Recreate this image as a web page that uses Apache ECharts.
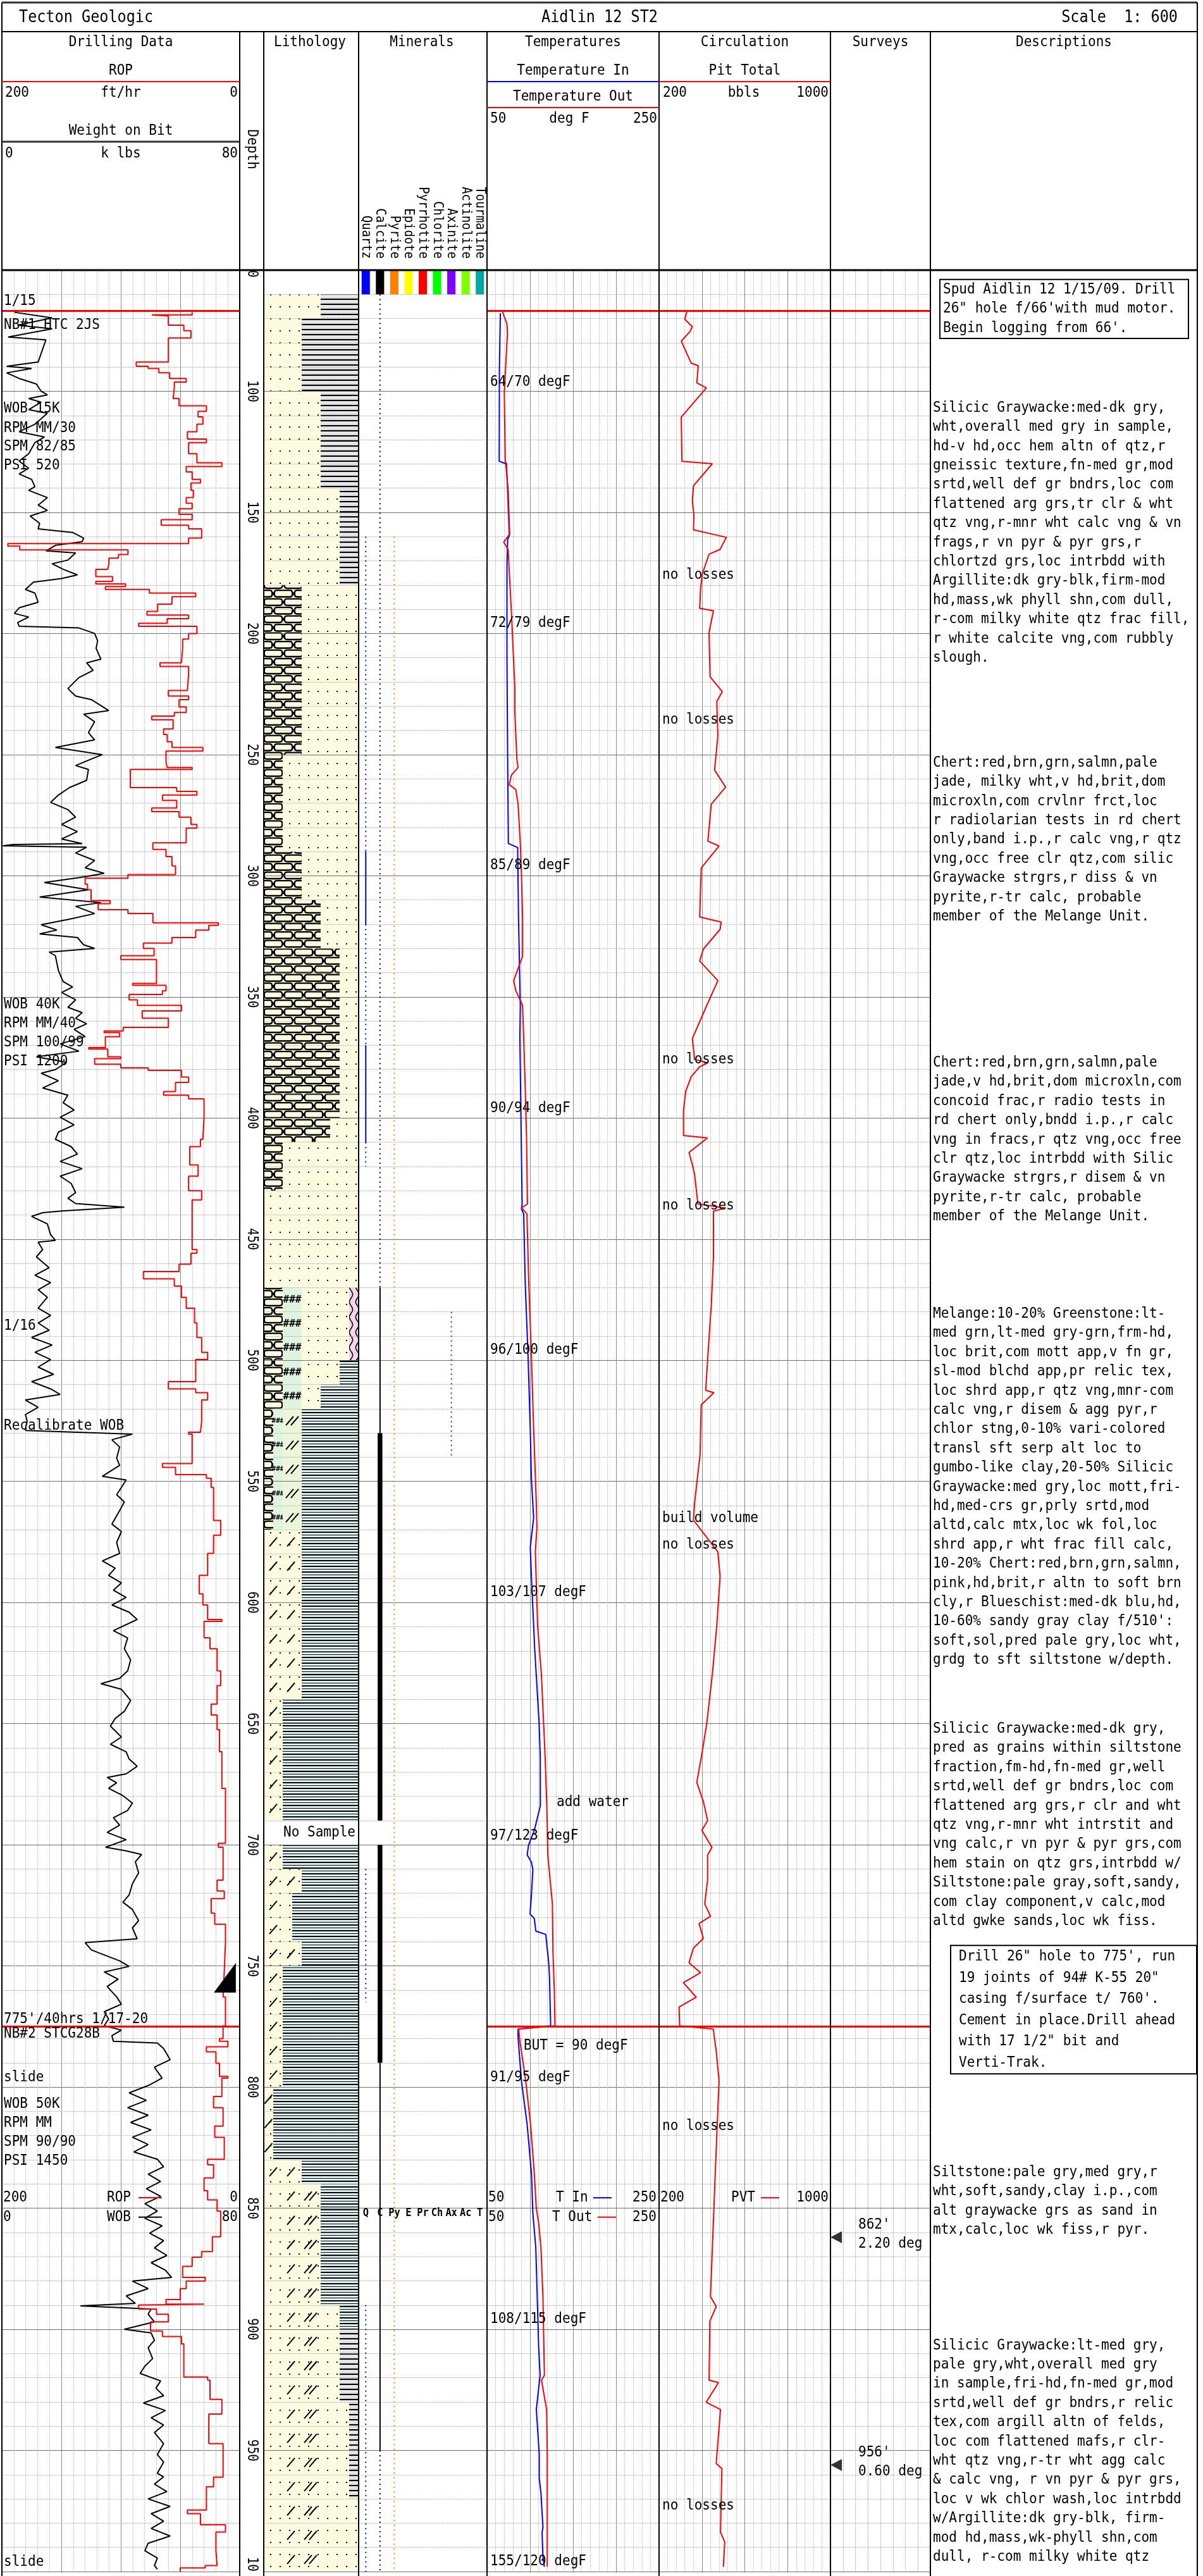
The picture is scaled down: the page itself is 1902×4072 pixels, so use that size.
<!DOCTYPE html>
<html>
<head>
<meta charset="utf-8">
<title>Aidlin 12 ST2 mud log</title>
<script src="https://cdn.jsdelivr.net/npm/echarts@6.0.0/dist/echarts.min.js"></script>
<style>
html,body{margin:0;padding:0;background:#fff;}
#chart{width:1902px;height:4072px;}
</style>
</head>
<body>
<div id="chart"></div>
<script>
const depthTicks = [50,100,150,200,250,300,350,400,450,500,550,600,650,700,750,800,850,900,950,1000];
const bitRuns = [66.7, 775];

// ROP ft/hr : [top depth of interval, value]
const ropIntervals = [
[67.4,40],[68.5,74],[68.9,60],[72.7,47],[75,41],[78,60],[87.9,87],[89.7,77],[90.6,68],[92.4,59],[94.7,45],[96.2,55],[98.5,56],[103,51],[106,28],[108.3,35],[110.6,31],[113.6,36],[116.7,44],[119.7,28],[121.2,43],[125.8,36],[129.5,15],[131.1,45],[133.3,40],[136.4,33],[137.9,41],[140.9,39],[143.9,45],[146.2,40],[148.5,51],[150.8,40],[153,66],[155.3,43],[156.8,32],[160.6,43],[162.9,195],[163.9,185],[165.5,94],[167.4,102],[168.9,110],[171.2,111],[173.5,121],[176.5,107],[178.5,121],[179.5,96],[180.6,113],[181.8,76],[183.3,37],[184.8,57],[187.9,69],[190.9,78],[192.4,43],[193.9,61],[195.8,85],[197,36],[200,43],[202.3,48],[206.1,49],[212.1,67],[213.6,43],[216.7,44],[223.5,60],[225.8,43],[227.3,51],[230.3,45],[232.6,55],[234.1,74],[235.6,56],[239.4,64],[241.7,61],[244.7,57],[247,31],[248.5,62],[253,61],[255.3,40],[256.1,92],[263.6,53],[265.2,36],[266.7,65],[268.9,53],[272,74],[273.5,51],[275.8,41],[278.8,36],[280.3,45],[286.4,73],
[289.1,62],[292.1,57],[295.9,54],[299.5,94],[301,130],[303.5,128],[305.8,125],[310.3,109],[311.5,119],[314,94],[315.6,73],[319.4,18],[320.5,26],[322.4,37],[325.5,57],[327.8,81],[330,72],[333,100],[334.6,70],[344.4,90],[345.2,62],[347.5,65],[349,93],[351.2,86],[353.5,49],[355.8,82],[358.8,60],[362.6,98],[364.1,114],[364.7,101],[366.4,113],[370.9,127],[371.5,111],[374.7,100],[375.5,122],[377.8,100],[379.3,77],[380.3,49],[383.1,43],[385.3,54],[389.1,64],[390.6,43],[392.1,30],[399.7,31],[408.8,33],[411.8,42],[419.4,35],[424,43],[430,32],[433.8,40],[454.3,36],[455.8,41],[460.3,51],[463.4,81],[466.4,55],[469.4,49],[474,45],[478.5,38],[484.6,36],[490.6,32],[496.7,27],[499.7,37],[508.8,60],[511.8,37],[513.4,27],[516.4,32],
[525.2,33],[529.7,43],[530.5,40],[542.6,65],[544.2,54],[547.2,28],[548.7,24],[552.5,22],[566.1,16],[572.2,22],[579.7,27],[588.8,34],[596.4,31],[601,27],[607,15],[607.8,30],[614.6,25],[619.1,19],[628.2,16],[634.3,19],[641.9,24],[646.4,19],[652.5,17],[661.6,15],[676.7,12],[699.4,18],[701,14],[714.6,19],[719.1,13],[722.2,24],[728.2,21],[732.8,12],[740.4,13],[752.5,14],
[762.8,12],[774.7,14],[780,17],[781.1,10],[783.4,28],[785.5,20],[790.2,17],[795.6,10],[796.3,15],[803.9,22],[808.5,14],[816.1,21],[820.7,13],[829.8,27],[832.1,22],[837.5,30],[842.8,27],[846.6,19],[851.2,16],[861.8,23],[867.9,32],[870.2,40],[874,48],[878.6,29],[880.1,45],[883.2,50],[887.7,62],[889.6,30],[890,85],[891.6,70],[893.8,60],[896.9,75],[900.7,65],[903,49],[906,47],[919.7,27],[921,25],[928.9,15],[935,26],[947.2,14],[961,22],[965,28],[974.6,44],[976.1,33],[980.7,12],[983.7,20],[991.4,19],[997.5,29],[998.5,50]
];

// Weight on bit k lbs : [depth, value]
const wobPoints = [
[67.4,4.2],[69.7,16.9],[72.7,5.3],[74.2,16.9],[77.6,2.1],[78.8,14.8],[87.9,12.2],[89.7,1.6],[90.6,10],[92.4,1.6],[94.7,5.8],[97,11.6],[100,13.2],[101.5,15.3],[103,9],[104.5,13.2],[107.6,9],[109.1,15.3],[113.6,11.1],[116.7,5.8],[118.9,14.3],[121.2,11.1],[125.8,9],[128.8,5.8],[131.8,9],[134.1,5.8],[136.4,10],[139.4,11.1],[140.9,9],[143.9,15.3],[147,12.2],[149.2,15.3],[151.5,9.5],[154.5,12.7],[156.8,12.2],[158.3,23.8],[160.6,27.5],[162.1,27],[163.6,18],[165.9,14.8],[166.7,24.8],[169.7,22.2],[171.2,16.9],[173.5,20.6],[175.8,25.4],[177.3,20.1],[178.8,10.6],[181.8,7.9],[183.3,11.1],[187.1,12.2],[189.4,5.8],[191.7,4.2],[193.2,9],[195.5,5.3],[197,5.8],[197.7,25.9],[200,31.2],[203,32.2],[206.1,31.7],[210.6,33.3],[212.1,28.5],[215.2,30.7],[218.2,25.9],[222.7,22.2],[225.8,24.8],[227.3,30.1],[231.8,35.9],[233.3,27.5],[236.4,31.2],[240.9,29.1],[243.9,31.2],[247,18],[250,33.8],[251.5,30.7],[254.5,24.8],[256.1,29.1],[260.6,28.5],[263.6,22.7],[266.7,19],[269.7,16.4],[272.7,22.2],[275.8,24.8],[278.8,20.1],[281.8,25.4],[284.8,20.1],[286.7,27],[287.1,3.7],[287.6,0.3],[288.2,28.5],
[290.6,24.8],[293.7,31.2],[296.7,28],[299,34.4],[300.5,27.5],[302.8,14.3],[305.8,29.1],[308.8,12.7],[311.1,33.3],[312.6,24.8],[315.6,31.2],[317.9,22.7],[320.2,13.2],[322.4,18.5],[324,12.7],[325.5,25.4],[328.5,27.5],[330,31.2],[331.5,15.9],[333,18],[339.1,19],[343.7,20.6],[345.9,23.8],[348.2,20.1],[351.2,24.8],[354.3,22.2],[356.5,27],[358.8,24.8],[361.1,28.5],[363.4,24.3],[366.4,28],[369.4,19.6],[372.4,25.9],[374.7,11.6],[377,21.7],[380,18],[381.5,13.2],[384.6,19],[387.6,13.7],[390.6,22.2],[393.7,20.6],[396.7,24.3],[399.7,19.6],[402.8,24.3],[405.8,19],[408.8,18],[411.8,23.3],[414.9,25.4],[417.9,19.6],[420.9,27],[424,19.6],[427,23.3],[430.8,24.8],[433.1,22.2],[435.3,24.8],[436.8,41.2],[438.4,20.1],[439.1,13.7],[440.6,10],[443.7,15.3],[448.2,16.4],[450.5,18],[451.2,12.2],[454.3,13.7],[457.3,11.6],[461.8,15.9],[464.9,11.1],[467.9,16.4],[470.9,12.2],[474,15.3],[478.5,12.2],[481.5,16.4],[484.6,12.2],[487.6,15.9],[490.6,10],[493.7,16.9],[496.7,11.1],[499.7,16.4],[502.8,12.2],[505.8,17.4],[508.8,10],[511.8,16.4],[514.1,19.6],[516.4,7.9],[519.4,12.2],[522.4,7.9],[525.2,8.5],
[528.2,7.9],[529,8],[530.5,43.9],[532.8,37],[535.8,39.6],[540.4,38.6],[543.4,39.6],[547.9,33.8],[549.4,41.8],[552.5,40.2],[555.5,38.6],[558.5,41.2],[563.1,39.1],[567.6,37],[570.7,40.2],[575.2,38.6],[579.7,39.6],[582.8,33.8],[585.8,38.1],[588.8,35.9],[591.9,40.2],[594.9,37.5],[597.9,41.8],[601,37],[604,42.8],[607,45.5],[611.6,37.5],[614.6,42.3],[619.1,41.2],[623.7,43.3],[628.2,42.3],[631.3,39.6],[633.5,33.3],[635.8,40.2],[640.4,43.3],[644.9,41.2],[647.9,38.1],[651,36.5],[655.5,40.2],[658.5,36.5],[661.6,41.8],[664.6,42.8],[667.6,45.5],[670.7,41.8],[672.2,35.4],[674.4,38.6],[676.7,35.9],[679.7,40.7],[682.8,43.9],[685.8,42.3],[688.8,37.5],[691.9,39.6],[694.9,35.4],[697.9,41.8],[701,34.9],[702.5,41.8],[704,47],[707,44.9],[711.6,46],[716.1,43.9],[720.7,42.8],[723.7,40.7],[726.7,43.9],[731.3,46],[734.3,43.9],[738.8,45.5],[740.4,28],[743.4,30.1],[747.9,39.6],[750.2,42.8],[752.5,34.4],[755.5,39.1],[758.5,35.4],[762.8,38.6],
[765.8,40.2],[768.9,34.4],[771.9,35.9],[774.7,34.4],[776.5,40.2],[778.8,37],[781.1,37.5],[781.8,52.3],[784.1,54.4],[788.7,56.6],[791.8,51.3],[796.3,53.9],[799.4,49.2],[802.4,42.8],[805.5,48.6],[808.5,42.3],[811.6,49.2],[814.6,43.3],[817.7,50.2],[820.7,43.9],[823.7,49.2],[826.8,44.4],[829.8,52.3],[832.9,54.4],[836,49.2],[839,53.4],[842,48.6],[845.1,53.4],[848.1,48.1],[851.2,52.3],[854.2,48.1],[857.3,53.9],[860.3,49.7],[863.4,54.4],[866.4,51.3],[869.5,55.5],[872.5,50.2],[875.6,55],[878.6,57.1],[880.1,43.9],[883.2,49.2],[886.2,41.8],[889.3,44.9],[890.3,26.4],[891.6,50.2],[893.8,49.2],[896.9,51.3],[900,41.2],[901.5,50.2],[904.5,51.3],[907.6,49.2],[912.1,50.7],[915.2,48.1],[918.2,46.5],[921.3,53.4],[924.3,51.8],[927.4,54.4],[930.4,47.6],[933.5,55],[936.5,50.2],[939.5,54.4],[942.6,51.3],[947.2,54.4],[951.7,52.3],[954.8,54.4],[959.4,52.3],[960.9,54.4],[963.9,51.3],[967,55.5],[970,49.2],[973.1,56.6],[976.1,50.2],[979.2,54.4],[982.2,50.2],[985.3,56.6],[988.3,49.2],[991.4,48.1],[994.4,52.3],[997.5,51.3],[999,52.3]
];

// Temperatures deg F : [depth, value]
const tempIn = [
[67.8,65.5],[90.5,64.4],[128.9,64.2],[129.9,71.9],[141,74.5],[159.2,76.3],[161.3,74],[171.4,73.2],[211.8,73.2],[252.3,74],[286.7,74.8],[288.3,85.6],[317,86.6],[353.5,88.7],[366.7,88.2],[435.5,90.8],[437.5,90],[439.5,92.6],[467.9,94.4],[498.2,97.7],[528.5,100.3],[548.8,101.6],[565,104.2],[577.1,100.3],[589.2,101.6],[619.6,105.5],[649.9,110.6],[664.1,111.9],[683.9,112],[694,105],[700.1,98.3],[704.2,96.7],[707.2,101.7],[710.2,103.3],[720.4,101.7],[728.5,100],[730.5,105],[735.6,106.7],[737,118.3],[748.7,121.7],[754.8,122.7],[765,123.3],[774.7,124],[776.1,86],[779.1,86],[797.4,90],[815.6,96.7],[835.9,101.7],[852.1,103.3],[866.3,106.7],[906.8,110],[919,111.7],[933.1,107.3],[951.4,110.7],[961.5,110.7],[967.6,112.7],[981.8,115],[983.8,114],[993.9,115],[998,116.7]
];
const tempOut = [
[67.2,68],[72.3,73.2],[76.3,73.7],[100.6,70.1],[128.9,71.2],[129.9,72.7],[159.2,75.8],[162.3,69.4],[165.3,74.5],[191.6,78.4],[211.8,81],[222,82.3],[232.1,82.3],[252.3,84.8],[255.3,86.1],[258.4,78.4],[262.4,75.8],[264.4,83.5],[270.5,86.1],[286.7,88.7],[298.8,90],[317,91.3],[333.2,91.3],[343.3,81],[347.4,83.5],[353.5,91.3],[366.7,92.6],[386.9,94.4],[407.2,95.9],[435.5,97],[437.1,90],[439.5,96.4],[467.9,98.5],[498.2,101.6],[528.5,104.2],[558.9,107.3],[569,108],[579.1,106.2],[609.5,108.8],[629.7,113.2],[649.9,115.8],[664.1,117.6],[683.9,119.5],[704.2,120.7],[714.3,123.3],[724.4,126],[744.7,126.7],[760.9,128.3],[774.7,129],[776.1,86.7],[781.2,88.3],[797.4,95],[815.6,100.7],[835.9,105],[850.1,107.3],[856.1,110],[866.3,112.7],[886.5,115],[919,116.7],[921,113.3],[933.1,119.3],[951.4,120],[983.8,120],[998,120]
];

// Pit total bbls : [depth, value]
const pitTotal = [
[67.2,329.5],[70.3,320],[73.3,355],[75.3,345],[79.3,303.6],[88.4,350],[89.5,383],[96.5,376],[98.6,420.7],[110.7,303.6],[128.9,306.7],[129.9,448.6],[139,360.6],[145.1,355.4],[151.2,362.7],[157.2,360.6],[160.3,513.9],[165.3,484.9],[167.3,433.1],[175.4,402],[181.5,393.7],[189.6,389.6],[190.6,453.8],[199.7,433.1],[217.9,438.3],[224,495.3],[228,469.4],[242.2,474.5],[256.4,459],[263.4,510.8],[270.5,443.5],[285.7,427.9],[287.7,479.7],[296.8,396.8],[317,389.6],[319.1,490.1],[322.1,484.9],[330.2,407.2],[335.2,389.6],[343.3,474.5],[353.5,422.7],[367.2,355.4],[375.8,365.8],[377.2,428],[378.8,390],[382.9,350.2],[389,324.3],[397,314],[407.2,314],[408.2,425.8],[414.2,339.9],[419.3,355.4],[423.3,365.8],[431.4,376.1],[435.5,381.3],[437.1,510.8],[438.5,453.8],[457.7,453.8],[478,443.5],[484,438.3],[498.2,427.9],[512.4,417.6],[513.4,455.9],[518.4,396.8],[538.7,391.6],[558.9,365.8],[566,360.6],[579.1,474.5],[589.2,484.9],[609.5,469.4],[629.7,448.6],[649.9,422.7],[664.1,396.8],[674.2,376.1],[682.3,407.2],[690,426.7],[694,400],[701.1,446.7],[704.2,426.7],[714.3,426.7],[724.4,413.3],[729.5,440],[732.5,386.7],[738.6,406.7],[742.7,360],[748.7,340],[752.8,393.3],[756.9,313.3],[762.9,373.3],[767,293.3],[774.7,296],[776.1,453.3],[785.2,466.7],[797.4,480],[825.7,466.7],[856.1,453.3],[886.5,440],[890.6,466.7],[896.6,437.3],[921,433.3],[922,477.3],[930.1,420],[933.1,486.7],[955.4,466.7],[957.5,493.3],[983.8,486.7],[987.8,506.7],[998,500]
];

const surveyDepths = [862, 956];
const surveyLabels = [["862'", "2.20 deg"], ["956'", "0.60 deg"]];

const mineralNames = ['Quartz','Calcite','Pyrite','Epidote','Pyrrhotite','Chlorite','Axinite','Actinolite','Tourmaline'];
const mineralAbbr = ['Q','C','Py','E','Pr','Ch','Ax','Ac','T'];
// [mineral column, top, bottom, trace kind]
const mineralIntervals = [
[1,60,470,'dot'],[1,470,530,'thin'],[1,530,690,'thick'],[1,700,790,'thick'],[1,790,950,'thin'],[1,950,1000,'dot'],
[0,160,290,'dot'],[0,290,320,'thin'],[0,320,370,'dot'],[0,370,410,'thin'],[0,410,420,'dot'],[0,710,765,'dot'],[0,890,1000,'dot'],
[2,160,1000,'dot'],
[6,480,540,'dot']
];

// lithology: [top, bottom, [rock, percent], ...] left to right
const lithology = [
[60,70,['sand',60],['arg',40]],
[70,100,['sand',40],['arg',60]],
[100,140,['sand',60],['arg',40]],
[140,180,['sand',80],['arg',20]],
[180,250,['chert',40],['sand',60]],
[250,290,['chert',20],['sand',80]],
[290,310,['chert',40],['sand',60]],
[310,330,['chert',60],['sand',40]],
[330,400,['chert',80],['sand',20]],
[400,410,['chert',70],['sand',30]],
[410,430,['chert',20],['sand',80]],
[430,470,['sand',100]],
[470,500,['chert',20],['green',20],['sand',50],['blue',10]],
[500,510,['chert',20],['green',20],['sand',40],['clay',20]],
[510,520,['chert',20],['green',20],['sand',20],['clay',40]],
[520,570,['chert',10],['green',10],['serp',20],['clay',60]],
[570,640,['silt',40],['clay',60]],
[640,690,['silt',20],['clay',80]],
[690,700,['none',100]],
[700,710,['silt',20],['clay',80]],
[710,720,['silt',40],['clay',60]],
[720,740,['silt',30],['clay',70]],
[740,750,['silt',40],['clay',60]],
[750,800,['silt',20],['clay',80]],
[800,830,['silt',10],['clay',90]],
[830,840,['silt',40],['clay',60]],
[840,890,['siltsand',60],['clay',40]],
[890,900,['siltsand',80],['clay',20]],
[900,930,['siltsand',80],['arg',20]],
[930,970,['siltsand',90],['arg',10]],
[970,1000,['siltsand',100]]
];

const drillNotes = [
[62.8,'1/15'],[72.7,'NB#1 HTC 2JS'],[107.2,'WOB 15K'],[115.3,'RPM MM/30'],[122.9,'SPM 82/85'],[130.7,'PSI 520'],
[353.2,'WOB 40K'],[361,'RPM MM/40'],[368.8,'SPM 100/99'],[376.7,'PSI 1200'],[485.8,'1/16'],[527.1,'Recalibrate WOB'],
[772,"775'/40hrs 1/17-20"],[778,'NB#2 STCG28B'],[796,'slide'],[807,'WOB 50K'],[814.8,'RPM MM'],[822.7,'SPM 90/90'],[830.5,'PSI 1450'],[996,'slide']
];
const tempNotes = [
[96.2,'64/70 degF'],[195.7,'72/79 degF'],[295.7,'85/89 degF'],[396,'90/94 degF'],[495.7,'96/100 degF'],[595.7,'103/107 degF'],
[682.4,'add water'],[696.3,'97/123 degF'],[783,'BUT = 90 degF'],[796,'91/95 degF'],[895.8,'108/115 degF'],[995.8,'155/120 degF']
];
const circNotes = [
[175.9,'no losses'],[235.7,'no losses'],[375.9,'no losses'],[436.2,'no losses'],[565.2,'build volume'],[576.2,'no losses'],[816.1,'no losses'],[972.8,'no losses']
];
const legendDepths = [845.7, 853.7];

const descriptions = [
[58.1, ["Spud Aidlin 12 1/15/09. Drill","26\" hole f/66'with mud motor.","Begin logging from 66'."]],
[106.9, ["Silicic Graywacke:med-dk gry,","wht,overall med gry in sample,","hd-v hd,occ hem altn of qtz,r","gneissic texture,fn-med gr,mod","srtd,well def gr bndrs,loc com","flattened arg grs,tr clr & wht","qtz vng,r-mnr wht calc vng & vn","frags,r vn pyr & pyr grs,r","chlortzd grs,loc intrbdd with","Argillite:dk gry-blk,firm-mod","hd,mass,wk phyll shn,com dull,","r-com milky white qtz frac fill,","r white calcite vng,com rubbly","slough."]],
[253.4, ["Chert:red,brn,grn,salmn,pale","jade, milky wht,v hd,brit,dom","microxln,com crvlnr frct,loc","r radiolarian tests in rd chert","only,band i.p.,r calc vng,r qtz","vng,occ free clr qtz,com silic","Graywacke strgrs,r diss & vn","pyrite,r-tr calc, probable","member of the Melange Unit."]],
[377.2, ["Chert:red,brn,grn,salmn,pale","jade,v hd,brit,dom microxln,com","concoid frac,r radio tests in","rd chert only,bndd i.p.,r calc","vng in fracs,r qtz vng,occ free","clr qtz,loc intrbdd with Silic","Graywacke strgrs,r disem & vn","pyrite,r-tr calc, probable","member of the Melange Unit."]],
[480.9, ["Melange:10-20% Greenstone:lt-","med grn,lt-med gry-grn,frm-hd,","loc brit,com mott app,v fn gr,","sl-mod blchd app,pr relic tex,","loc shrd app,r qtz vng,mnr-com","calc vng,r disem & agg pyr,r","chlor stng,0-10% vari-colored","transl sft serp alt loc to","gumbo-like clay,20-50% Silicic","Graywacke:med gry,loc mott,fri-","hd,med-crs gr,prly srtd,mod","altd,calc mtx,loc wk fol,loc","shrd app,r wht frac fill calc,","10-20% Chert:red,brn,grn,salmn,","pink,hd,brit,r altn to soft brn","cly,r Blueschist:med-dk blu,hd,","10-60% sandy gray clay f/510':","soft,sol,pred pale gry,loc wht,","grdg to sft siltstone w/depth."]],
[652.2, ["Silicic Graywacke:med-dk gry,","pred as grains within siltstone","fraction,fm-hd,fn-med gr,well","srtd,well def gr bndrs,loc com","flattened arg grs,r clr and wht","qtz vng,r-mnr wht intrstit and","vng calc,r vn pyr & pyr grs,com","hem stain on qtz grs,intrbdd w/","Siltstone:pale gray,soft,sandy,","com clay component,v calc,mod","altd gwke sands,loc wk fiss."]],
[746.2, ["Drill 26\" hole to 775', run","19 joints of 94# K-55 20\"","casing f/surface t/ 760'.","Cement in place.Drill ahead","with 17 1/2\" bit and","Verti-Trak."]],
[835.2, ["Siltstone:pale gry,med gry,r","wht,soft,sandy,clay i.p.,com","alt graywacke grs as sand in","mtx,calc,loc wk fiss,r pyr."]],
[906.7, ["Silicic Graywacke:lt-med gry,","pale gry,wht,overall med gry","in sample,fri-hd,fn-med gr,mod","srtd,well def gr bndrs,r relic","tex,com argill altn of felds,","loc com flattened mafs,r clr-","wht qtz vng,r-tr wht agg calc","& calc vng, r vn pyr & pyr grs,","loc v wk chlor wash,loc intrbdd","w/Argillite:dk gry-blk, firm-","mod hd,mass,wk-phyll shn,com","dull, r-com milky white qtz"]]
];

// ================= LAYOUT & STYLE =================
const GT = 427, GH = 3638;
const TR = {drill:[3,379], depth:[379,417], litho:[417,567], min:[567,770], temp:[770,1042], circ:[1042,1313], surv:[1313,1471], desc:[1471,1893]};
const ORDER = ['drill','depth','litho','min','temp','circ','surv','desc'];
const MONO = '"DejaVu Sans Mono", monospace';
const mineralColors = ['#0000ff','#000000','#ff8000','#ffff00','#ff0000','#00ff00','#8000ff','#80ff00','#00a8a0'];
const descBox = {0:{left:15,width:393,text:20,lh:30.4}, 6:{left:32,width:389,text:45,lh:33.5}};
const tempIndent = {'add water':110, 'BUT = 90 degF':58};
const DESC_LH = 30.4;

function T(x, y, s, o) {
  o = o || {};
  const al = o.align || 'left', va = o.va || 'middle';
  const size = o.size || 23, sx = o.sx || (o.size ? 0 : 0.915);
  const st = {text: s, font: (o.bold ? 'bold ' : '') + size + 'px ' + MONO, fill: o.color || '#000',
    align: al, textAlign: al, verticalAlign: va, textVerticalAlign: va};
  if (o.lh) st.lineHeight = o.lh;
  const el = {type: 'text', x: x, y: y, style: st, silent: true};
  if (o.rot) el.rotation = o.rot;
  if (sx) el.scaleX = sx;
  return el;
}
function L(x1, y1, x2, y2, color, w, dash) {
  const st = {stroke: color, lineWidth: w};
  if (dash) st.lineDash = dash;
  return {type: 'line', shape: {x1: x1, y1: y1, x2: x2, y2: y2}, style: st, silent: true};
}

// patterns for lithology
function pat(w, h, bg, draw) {
  const c = document.createElement('canvas'); c.width = w; c.height = h;
  const g = c.getContext('2d'); g.fillStyle = bg; g.fillRect(0, 0, w, h);
  if (draw) draw(g);
  return {image: c, repeat: 'repeat'};
}
const SAND_BG = '#fdfbe0';
const sandPat = pat(15, 19, SAND_BG, g => { g.fillStyle = '#000'; g.fillRect(7, 9, 2, 2); g.fillStyle = '#f1eec8'; g.fillRect(2, 3, 1, 1); g.fillRect(11, 15, 1, 1); });
function rrect(g, x, y, w, h, r) {
  g.beginPath();
  g.moveTo(x + r, y); g.lineTo(x + w - r, y); g.quadraticCurveTo(x + w, y, x + w, y + r);
  g.lineTo(x + w, y + h - r); g.quadraticCurveTo(x + w, y + h, x + w - r, y + h);
  g.lineTo(x + r, y + h); g.quadraticCurveTo(x, y + h, x, y + h - r);
  g.lineTo(x, y + r); g.quadraticCurveTo(x, y, x + r, y);
  g.closePath(); g.fill(); g.stroke();
}
const FILL = {
  sand: sandPat, silt: sandPat, siltsand: sandPat,
  arg: pat(8, 8, '#dedede', g => { g.fillStyle = '#000'; g.fillRect(0, 0, 8, 2); g.fillStyle = '#f2f2f2'; g.fillRect(0, 4, 8, 1); g.fillRect(3, 6, 1, 1); }),
  clay: pat(8, 9, '#dcf2f2', g => { g.fillStyle = '#000'; g.fillRect(0, 0, 8, 2); g.fillRect(0, 5, 8, 1); }),
  chert: pat(32, 27, SAND_BG, g => {
    g.strokeStyle = '#000'; g.lineWidth = 2.4; g.fillStyle = SAND_BG;
    rrect(g, 1.8, 1.6, 28.4, 10.4, 4); rrect(g, -14.2, 15.1, 28.4, 10.4, 4); rrect(g, 17.8, 15.1, 28.4, 10.4, 4);
    g.fillStyle = '#000';
    [[0, 6.8], [32, 6.8], [16, 20.3]].forEach(p => { g.beginPath(); g.arc(p[0], p[1], 2.4, 0, 7); g.fill(); });
  }),
  green: pat(4, 4, '#e2f5e2', g => { g.fillStyle = '#c4e6c4'; g.fillRect(1, 1, 1, 1); }),
  serp: pat(4, 4, '#eef6dc', g => { g.fillStyle = '#d4ecc8'; g.fillRect(2, 2, 1, 1); }),
  blue: pat(10, 24, '#f3d6ee', g => { g.strokeStyle = '#000'; g.lineWidth = 1.6; g.beginPath(); for (let y = 0; y <= 24; y++) { const x = 5 + 2.6 * Math.sin(y / 24 * 2 * Math.PI); if (y === 0) g.moveTo(x, y); else g.lineTo(x, y); } g.stroke(); }),
  none: '#ffffff'
};

function depthAxis(i, lines) {
  return {type: 'value', gridIndex: i, min: 50, max: 1000, inverse: true, interval: 50,
    axisLine: {show: false}, axisTick: {show: false}, axisLabel: {show: false},
    splitLine: {show: lines, lineStyle: {color: '#6e6e6e', width: 1}},
    minorTick: {show: false, splitNumber: 5},
    minorSplitLine: {show: lines, lineStyle: {color: '#a4a4a4', width: 1, type: 'dotted'}}};
}
function gridX(i, min, max, interval, minor, majorStyle) {
  return {type: 'value', gridIndex: i, min: min, max: max, interval: interval,
    axisLine: {show: false}, axisTick: {show: false}, axisLabel: {show: false},
    splitLine: {show: true, lineStyle: majorStyle || {color: '#8a8a8a', width: 1}},
    minorTick: {show: false, splitNumber: 5},
    minorSplitLine: {show: minor, lineStyle: {color: '#b2b2b2', width: 1, type: 'dotted'}}};
}

const grids = ORDER.map(k => ({left: TR[k][0], top: GT, width: TR[k][1] - TR[k][0], height: GH, outerBoundsMode: 'none', containLabel: false}));
const yAxes = ORDER.map((k, i) => depthAxis(i, ['drill', 'litho', 'min', 'temp', 'circ', 'surv'].indexOf(k) >= 0));
const xAxes = [
  gridX(0, 0, 80, 20, true),                          // 0 WOB
  {type: 'value', gridIndex: 0, min: 0, max: 200, inverse: true, show: false}, // 1 ROP
  {type: 'value', gridIndex: 1, min: 0, max: 1, show: false},        // 2 depth
  {type: 'value', gridIndex: 2, min: 0, max: 100, show: false},      // 3 litho
  {type: 'value', gridIndex: 3, min: 0, max: 9, show: false},        // 4 minerals
  gridX(4, 50, 250, 50, true),                        // 5 temps
  gridX(5, 200, 1000, 200, true),                     // 6 pit
  gridX(6, 0, 8, 1, false, {color: '#9a9a9a', width: 1, type: 'dotted'}), // 7 surveys
  {type: 'value', gridIndex: 7, min: 0, max: 1, show: false}         // 8 descriptions
];

// ROP as a depth-step curve
const ropLine = [];
ropIntervals.forEach((r, i) => {
  const next = i + 1 < ropIntervals.length ? ropIntervals[i + 1][0] : 1000;
  ropLine.push([r[1], r[0]], [r[1], next]);
});

const bitMark = {silent: true, symbol: ['none', 'none'], label: {show: false}, animation: false,
  lineStyle: {color: '#ff0000', width: 3, type: 'solid'}, data: bitRuns.map(d => ({yAxis: d}))};

function notesSeries(xi, yi, notes, xmin, indentMap, baseIndent) {
  return {type: 'custom', xAxisIndex: xi, yAxisIndex: yi, z: 5, silent: true,
    data: notes.map(n => [xmin, n[0]]),
    renderItem: (params, api) => {
      const n = notes[params.dataIndex];
      const p = api.coord([xmin, n[0]]);
      const ind = (indentMap && indentMap[n[1]] !== undefined) ? indentMap[n[1]] : baseIndent;
      return T(p[0] + ind, p[1], n[1]);
    }};
}

// legend rows drawn inside tracks: [leftText, label, rightText, color, labelX, lineX1, lineX2]
function legendSeries(xi, yi, xmin, rows, rightX) {
  return {type: 'custom', xAxisIndex: xi, yAxisIndex: yi, z: 5, silent: true,
    data: rows.map((r, i) => [xmin, legendDepths[i]]),
    renderItem: (params, api) => {
      const r = rows[params.dataIndex];
      const p = api.coord([xmin, legendDepths[params.dataIndex]]);
      const x0 = p[0], y = p[1];
      return {type: 'group', children: [
        T(x0 + 2, y, r[0]), T(x0 + r[4], y, r[1]),
        L(x0 + r[5], y, x0 + r[6], y, r[3], 2),
        T(x0 + rightX, y, r[2], {align: 'right'})
      ]};
    }};
}

const series = [
  // ---------- drilling ----------
  {type: 'line', name: 'WOB', xAxisIndex: 0, yAxisIndex: 0, data: wobPoints.map(p => [p[1], p[0]]),
    showSymbol: false, symbol: 'none', lineStyle: {color: '#000', width: 2}, z: 3, markLine: bitMark},
  {type: 'line', name: 'ROP', xAxisIndex: 1, yAxisIndex: 0, data: ropLine,
    showSymbol: false, symbol: 'none', lineStyle: {color: '#ff0000', width: 2}, z: 4},
  notesSeries(0, 0, drillNotes, 0, null, 3),
  legendSeries(0, 0, 0, [['200', 'ROP', '0', '#ff0000', 166, 216, 253], ['0', 'WOB', '80', '#000000', 166, 216, 253]], 373),
  {type: 'custom', xAxisIndex: 0, yAxisIndex: 0, z: 5, silent: true, data: [[78.7, 748.7, 71.3, 761]],
    renderItem: (params, api) => {
      const a = api.coord([api.value(0), api.value(1)]), b = api.coord([api.value(2), api.value(3)]);
      return {type: 'polygon', shape: {points: [[a[0], a[1]], [a[0], b[1]], [b[0], b[1]]]}, style: {fill: '#000'}};
    }},
  // ---------- depth labels ----------
  {type: 'custom', xAxisIndex: 2, yAxisIndex: 1, clip: true, silent: true,
    data: depthTicks.map(d => [0.5, d]),
    renderItem: (params, api) => {
      const p = api.coord([0.5, api.value(1)]);
      return T(p[0], p[1], String(depthTicks[params.dataIndex]), {align: 'center', size: 23, sx: 0.84, rot: -Math.PI / 2});
    }},
  // ---------- lithology ----------
  {type: 'custom', xAxisIndex: 3, yAxisIndex: 2, z: -1, clip: true, silent: true,
    data: lithology.map(r => [0, r[0], r[1]]),
    renderItem: (params, api) => {
      const rec = lithology[params.dataIndex];
      const top = rec[0], bot = rec[1];
      const y1 = api.coord([0, top])[1], y2 = api.coord([0, bot])[1];
      const ch = [];
      let acc = 0;
      for (let k = 2; k < rec.length; k++) {
        const type = rec[k][0], pct = rec[k][1];
        const xa = api.coord([acc, top])[0], xb = api.coord([acc + pct, top])[0];
        acc += pct;
        ch.push({type: 'rect', shape: {x: xa, y: y1, width: xb - xa, height: y2 - y1}, style: {fill: FILL[type]}});
        for (let d = top; d < bot; d += 10) {
          const c1 = api.coord([0, d])[1], c2 = api.coord([0, Math.min(d + 10, bot)])[1];
          const cy = (c1 + c2) / 2, w = xb - xa, cx = (xa + xb) / 2;
          if (type === 'green') {
            ch.push(T(cx, cy, '###', {align: 'center', bold: true, size: w > 20 ? 16 : 11}));
          } else if (type === 'serp') {
            ch.push(L(cx - 10, cy + 7, cx + 2, cy - 7, '#000', 2), L(cx - 2, cy + 7, cx + 10, cy - 7, '#000', 2));
          } else if (type === 'silt') {
            const xs = [15, 43, 71, 99].filter(o => o < w - 5);
            if (!xs.length) xs.push(w / 2);
            xs.forEach(o => ch.push(L(xa + o - 6, cy + 7, xa + o + 6, cy - 7, '#000', 2)));
          } else if (type === 'siltsand') {
            if (43 < w - 5) ch.push(L(xa + 37, cy + 7, xa + 49, cy - 7, '#000', 2));
            if (73 < w - 5) ch.push(L(xa + 64, cy + 7, xa + 76, cy - 7, '#000', 2), L(xa + 72, cy + 7, xa + 84, cy - 7, '#000', 2));
          } else if (type === 'none') {
            ch.push(T(xb - 5, cy, 'No Sample', {align: 'right'}));
          }
        }
      }
      return {type: 'group', children: ch};
    }},
  // ---------- minerals ----------
  {type: 'custom', xAxisIndex: 4, yAxisIndex: 3, clip: true, silent: true,
    data: mineralIntervals.map(m => [m[0] + 0.5, m[1], m[2]]),
    renderItem: (params, api) => {
      const m = mineralIntervals[params.dataIndex];
      const a = api.coord([m[0] + 0.5, m[1]]), b = api.coord([m[0] + 0.5, m[2]]);
      const col = mineralColors[m[0]];
      if (m[3] === 'dot') return L(a[0], a[1], b[0], b[1], col, 2, [2, 5.5]);
      if (m[3] === 'thin') return L(a[0], a[1], b[0], b[1], col, 2);
      return L(a[0], a[1], b[0], b[1], col, 7.5);
    }},
  {type: 'custom', xAxisIndex: 4, yAxisIndex: 3, silent: true,
    data: mineralNames.map((n, i) => [i + 0.5, 50]),
    renderItem: (params, api) => {
      const i = params.dataIndex;
      const a = api.coord([i + 0.21, 50]), b = api.coord([i + 0.79, 60]);
      return {type: 'rect', shape: {x: a[0], y: a[1], width: b[0] - a[0], height: b[1] - a[1]}, style: {fill: mineralColors[i]}};
    }},
  {type: 'custom', xAxisIndex: 4, yAxisIndex: 3, silent: true, z: 5,
    data: mineralAbbr.map((n, i) => [i + 0.5, 851.9]),
    renderItem: (params, api) => {
      const p = api.coord([params.dataIndex + 0.5, 851.9]);
      return T(p[0], p[1], mineralAbbr[params.dataIndex], {align: 'center', bold: true, size: 18, sx: 0.85});
    }},
  // ---------- temperatures ----------
  {type: 'line', name: 'T In', xAxisIndex: 5, yAxisIndex: 4, data: tempIn.map(p => [p[1], p[0]]),
    showSymbol: false, symbol: 'none', lineStyle: {color: '#0000ff', width: 2}, z: 3},
  {type: 'line', name: 'T Out', xAxisIndex: 5, yAxisIndex: 4, data: tempOut.map(p => [p[1], p[0]]),
    showSymbol: false, symbol: 'none', lineStyle: {color: '#ff0000', width: 2}, z: 4, markLine: bitMark},
  notesSeries(5, 4, tempNotes, 50, tempIndent, 5),
  legendSeries(5, 4, 50, [['50', 'T In', '250', '#0000ff', 109, 168, 197], ['50', 'T Out', '250', '#ff0000', 103, 175, 204]], 268),
  // ---------- circulation ----------
  {type: 'line', name: 'Pit Total', xAxisIndex: 6, yAxisIndex: 5, data: pitTotal.map(p => [p[1], p[0]]),
    showSymbol: false, symbol: 'none', lineStyle: {color: '#ff0000', width: 2}, z: 3, markLine: bitMark},
  notesSeries(6, 5, circNotes, 200, null, 5),
  legendSeries(6, 5, 200, [['200', 'PVT', '1000', '#ff0000', 114, 161, 190]], 268),
  // ---------- surveys ----------
  {type: 'scatter', xAxisIndex: 7, yAxisIndex: 6, data: surveyDepths.map(d => [0.46, d]), symbol: 'triangle',
    symbolSize: [19, 18], symbolRotate: 90, itemStyle: {color: '#000'}, silent: true, z: 4, markLine: bitMark},
  {type: 'custom', xAxisIndex: 7, yAxisIndex: 6, silent: true, z: 5,
    data: surveyDepths.map(d => [0, d]),
    renderItem: (params, api) => {
      const p = api.coord([0, surveyDepths[params.dataIndex]]);
      const lab = surveyLabels[params.dataIndex];
      return {type: 'group', children: [T(p[0] + 44, p[1] - 19.6, lab[0]), T(p[0] + 44, p[1] + 10.4, lab[1])]};
    }},
  // ---------- descriptions ----------
  {type: 'custom', xAxisIndex: 8, yAxisIndex: 7, silent: true, z: 5,
    data: descriptions.map(d => [0, d[0]]),
    renderItem: (params, api) => {
      const i = params.dataIndex, d = descriptions[i];
      const p = api.coord([0, d[0]]);
      const box = descBox[i];
      const lh = box ? box.lh : DESC_LH;
      const top = p[1] - lh / 2;
      const ch = [];
      if (box) {
        ch.push({type: 'rect', shape: {x: p[0] + box.left, y: top - 1, width: box.width, height: d[1].length * lh + 2},
          style: {fill: null, stroke: '#000', lineWidth: 2}});
      }
      ch.push(T(p[0] + (box ? box.text : 4), top, d[1].join('\n'), {va: 'top', lh: lh}));
      return {type: 'group', children: ch};
    }}
];

// ================= HEADER (static frame) =================
const g = [];
const H = 4072;
const cx = k => (TR[k][0] + TR[k][1]) / 2;
// frame lines
g.push(L(3, 4, 1893, 4, '#303030', 3));
g.push(L(3, 4, 3, H, '#000', 2));
g.push(L(1893, 4, 1893, H, '#000', 2));
g.push(L(3, 50, 1893, 50, '#000', 2));
g.push(L(3, GT, 1893, GT, '#000', 3));
[379, 417, 567, 770, 1042, 1313, 1471].forEach(x => g.push(L(x, 50, x, H, '#000', 2)));
// title row
g.push(T(30, 28, 'Tecton Geologic', {size: 27, sx: 0.87}));
g.push(T(948, 28, 'Aidlin 12 ST2', {size: 27, sx: 0.87, align: 'center'}));
g.push(T(1862, 28, 'Scale  1: 600', {size: 27, sx: 0.87, align: 'right'}));
// drilling
g.push(T(cx('drill'), 67, 'Drilling Data', {align: 'center'}));
g.push(T(cx('drill'), 112, 'ROP', {align: 'center'}));
g.push(L(3, 129, 379, 129, '#ff0000', 2));
g.push(T(8, 147, '200'), T(cx('drill'), 147, 'ft/hr', {align: 'center'}), T(376, 147, '0', {align: 'right'}));
g.push(T(cx('drill'), 207, 'Weight on Bit', {align: 'center'}));
g.push(L(3, 224, 379, 224, '#333', 3));
g.push(T(8, 243, '0'), T(cx('drill'), 243, 'k lbs', {align: 'center'}), T(376, 243, '80', {align: 'right'}));
// depth
g.push(T(398, 236, 'Depth', {align: 'center', rot: -Math.PI / 2}));
// lithology / minerals
g.push(T(490, 67, 'Lithology', {align: 'center'}));
g.push(T(667, 67, 'Minerals', {align: 'center'}));
mineralNames.forEach((n, i) => g.push(T(567 + (i + 0.5) * (203 / 9), 409, n, {align: 'right', size: 21, sx: 0.9, rot: -Math.PI / 2})));
// temperatures
g.push(T(cx('temp'), 67, 'Temperatures', {align: 'center'}));
g.push(T(cx('temp'), 112, 'Temperature In', {align: 'center'}));
g.push(L(770, 129, 1042, 129, '#0000ff', 2));
g.push(T(cx('temp'), 153, 'Temperature Out', {align: 'center'}));
g.push(L(770, 170, 1042, 170, '#ff0000', 2));
g.push(T(775, 188, '50'), T(900, 188, 'deg F', {align: 'center'}), T(1039, 188, '250', {align: 'right'}));
// circulation
g.push(T(cx('circ'), 67, 'Circulation', {align: 'center'}));
g.push(T(cx('circ'), 112, 'Pit Total', {align: 'center'}));
g.push(L(1042, 129, 1313, 129, '#ff0000', 2));
g.push(T(1048, 147, '200'), T(1176, 147, 'bbls', {align: 'center'}), T(1310, 147, '1000', {align: 'right'}));
// surveys / descriptions
g.push(T(cx('surv'), 67, 'Surveys', {align: 'center'}));
g.push(T(cx('desc'), 67, 'Descriptions', {align: 'center'}));

const chart = echarts.init(document.getElementById('chart'), null, {renderer: 'canvas', width: 1902, height: 4072});
chart.setOption({
  animation: false,
  backgroundColor: '#ffffff',
  grid: grids,
  xAxis: xAxes,
  yAxis: yAxes,
  series: series,
  graphic: {elements: g.map(e => Object.assign({z: 100}, e))}
});
</script>
</body>
</html>
